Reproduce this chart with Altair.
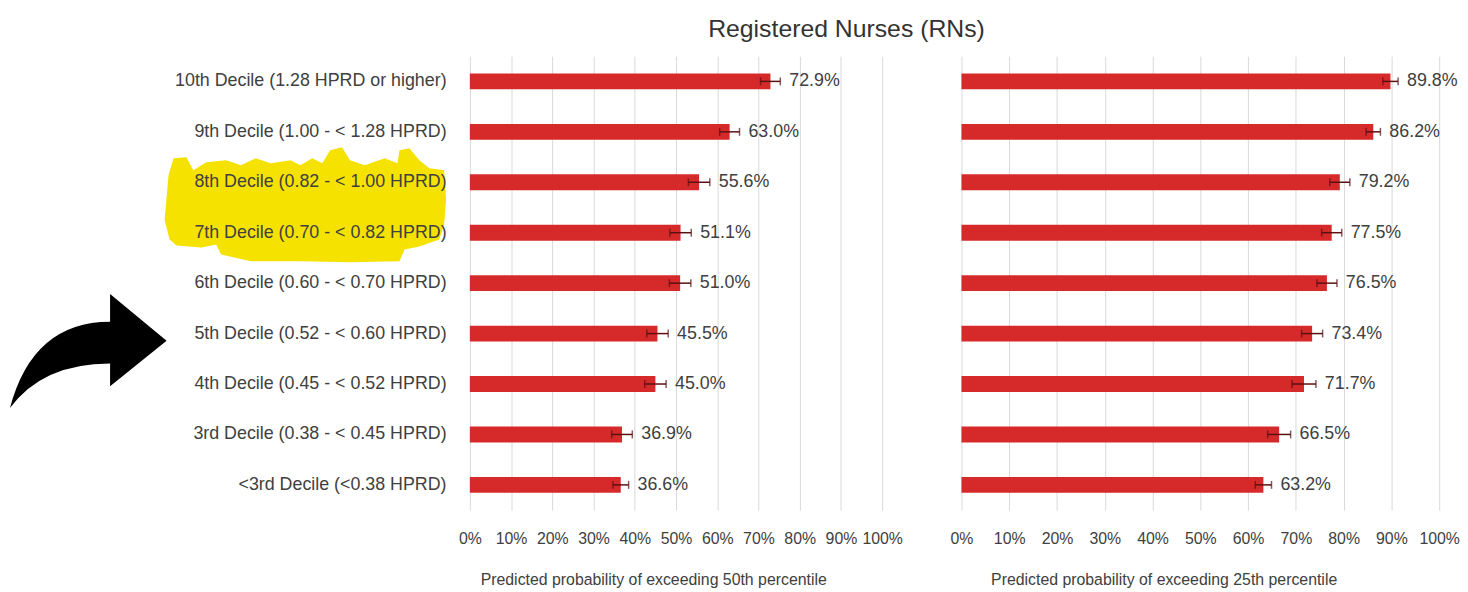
import altair as alt
import pandas as pd

categories = [
    "10th Decile (1.28 HPRD or higher)",
    "9th Decile (1.00 - < 1.28 HPRD)",
    "8th Decile (0.82 - < 1.00 HPRD)",
    "7th Decile (0.70 - < 0.82 HPRD)",
    "6th Decile (0.60 - < 0.70 HPRD)",
    "5th Decile (0.52 - < 0.60 HPRD)",
    "4th Decile (0.45 - < 0.52 HPRD)",
    "3rd Decile (0.38 - < 0.45 HPRD)",
    "<3rd Decile (<0.38 HPRD)",
]
p50 = [72.9, 63.0, 55.6, 51.1, 51.0, 45.5, 45.0, 36.9, 36.6]
p50_err = [2.4, 2.4, 2.6, 2.6, 2.6, 2.6, 2.6, 2.5, 1.9]
p25 = [89.8, 86.2, 79.2, 77.5, 76.5, 73.4, 71.7, 66.5, 63.2]
p25_err = [1.6, 1.5, 2.1, 2.1, 2.1, 2.2, 2.5, 2.4, 1.7]
tick_values = [0, 10, 20, 30, 40, 50, 60, 70, 80, 90, 100]

title_text = "Registered Nurses (RNs)"
xtitle_50 = "Predicted probability of exceeding 50th percentile"
xtitle_25 = "Predicted probability of exceeding 25th percentile"

FONT = "Liberation Sans"
TXT = "#404040"
RED = "#d62a2a"
ERR = "#5a1010"

# decorative annotation shapes (normalized symbol paths)
arrow_path = ("M 1 -0.125 L 0.2875 -0.7125 L 0.2875 -0.3625 "
              "Q -0.6875 -0.3625 -0.975 0.725 "
              "Q -0.5625 0.1625 0.2875 0.1625 L 0.2875 0.45 Z")

blob_px = [(167, 175), (172, 158), (185, 157), (192, 170), (205, 162), (225, 160),
           (240, 165), (255, 158), (270, 163), (290, 160), (300, 165), (312, 158),
           (322, 163), (330, 150), (342, 147), (350, 160), (365, 165), (385, 158),
           (398, 163), (400, 150), (410, 148), (420, 160), (430, 168), (445, 170),
           (447, 200), (445, 225), (440, 240), (420, 247), (405, 250), (400, 262),
           (350, 263), (300, 262), (250, 262), (220, 255), (215, 245), (200, 248),
           (175, 246), (168, 240), (163, 220)]
bcx, bcy, bs = 305, 205, 142.0
blob_path = "M " + " L ".join(f"{(x - bcx) / bs:.4f} {(y - bcy) / bs:.4f}" for x, y in blob_px) + " Z"

df = pd.DataFrame({"cat": categories, "v50": p50, "e50": p50_err, "v25": p25, "e25": p25_err})
one = pd.DataFrame({"a": [0]})

PANEL_X0 = 471
PANEL_Y0 = 55
H = 458


def panel(vcol, ecol, width, xtitle, title_x, show_y):
    yaxis = alt.Axis(labelFontSize=18, labelFont=FONT, labelColor=TXT, labelPadding=24,
                     labelLimit=500, domain=False, ticks=False, zindex=1) if show_y else None
    xaxis = alt.Axis(values=tick_values, labelExpr="datum.value + '%'", grid=True,
                     gridColor="#d9d9d9", gridWidth=1, domain=False, ticks=False, tickSize=0,
                     labelFontSize=16, labelFont=FONT, labelColor=TXT, labelPadding=21,
                     title=xtitle, titleFontSize=16, titleFont=FONT, titleColor=TXT,
                     titleFontWeight="normal", titleX=title_x, titleY=70,
                     titleAlign="center", titleBaseline="middle", labelFlush=False)
    base = alt.Chart(df).transform_calculate(
        lo=f"datum.{vcol} - datum.{ecol}",
        hi=f"datum.{vcol} + datum.{ecol}",
        lab=f"format(datum.{vcol}, '.1f') + '%'",
    ).encode(y=alt.Y("cat:N", sort=categories, title=None, axis=yaxis,
                     scale=alt.Scale(paddingInner=0, paddingOuter=0)))
    bars = base.mark_bar(size=16, color=RED).encode(
        x=alt.X(f"{vcol}:Q", scale=alt.Scale(domain=[0, 100], nice=False), axis=xaxis))
    rule = base.mark_rule(color=ERR, strokeWidth=1.5).encode(x="lo:Q", x2="hi:Q")
    cap_lo = base.mark_tick(color=ERR, size=8, thickness=1.5, orient="vertical").encode(x="lo:Q")
    cap_hi = base.mark_tick(color=ERR, size=8, thickness=1.5, orient="vertical").encode(x="hi:Q")
    labels = base.mark_text(align="left", baseline="middle", dx=9, fontSize=18, font=FONT,
                            color=TXT).encode(x="hi:Q", text="lab:N")
    layers = [bars, rule, cap_lo, cap_hi, labels]
    if show_y:
        blob = alt.Chart(one).mark_point(shape=blob_path, size=int((2 * bs) ** 2), filled=True,
                                         color="#f6e200", opacity=1, strokeWidth=0).encode(
            x=alt.value(bcx - PANEL_X0), y=alt.value(bcy - PANEL_Y0))
        arrow = alt.Chart(one).mark_point(shape=arrow_path, size=160 * 160, filled=True,
                                          color="#000000", opacity=1, strokeWidth=0).encode(
            x=alt.value(85 - PANEL_X0), y=alt.value(352 - PANEL_Y0))
        ttl = alt.Chart(one).mark_text(text=title_text, fontSize=25, font=FONT, color="#333333",
                                       align="center", baseline="middle").encode(
            x=alt.value(851 - PANEL_X0), y=alt.value(28 - PANEL_Y0))
        layers = [blob, arrow] + layers + [ttl]
    return alt.layer(*layers).properties(width=width, height=H)


left = panel("v50", "e50", 416, xtitle_50, 185, True)
right = panel("v25", "e25", 482, xtitle_25, 204, False)

chart = alt.hconcat(left, right, spacing=80, bounds="flush").properties(
    padding={"left": 2, "top": 7, "right": 0, "bottom": 0}
).configure(font=FONT).configure_view(stroke=None, strokeWidth=0)

chart.save("out.html", embed_options={"renderer": "svg", "actions": False})
